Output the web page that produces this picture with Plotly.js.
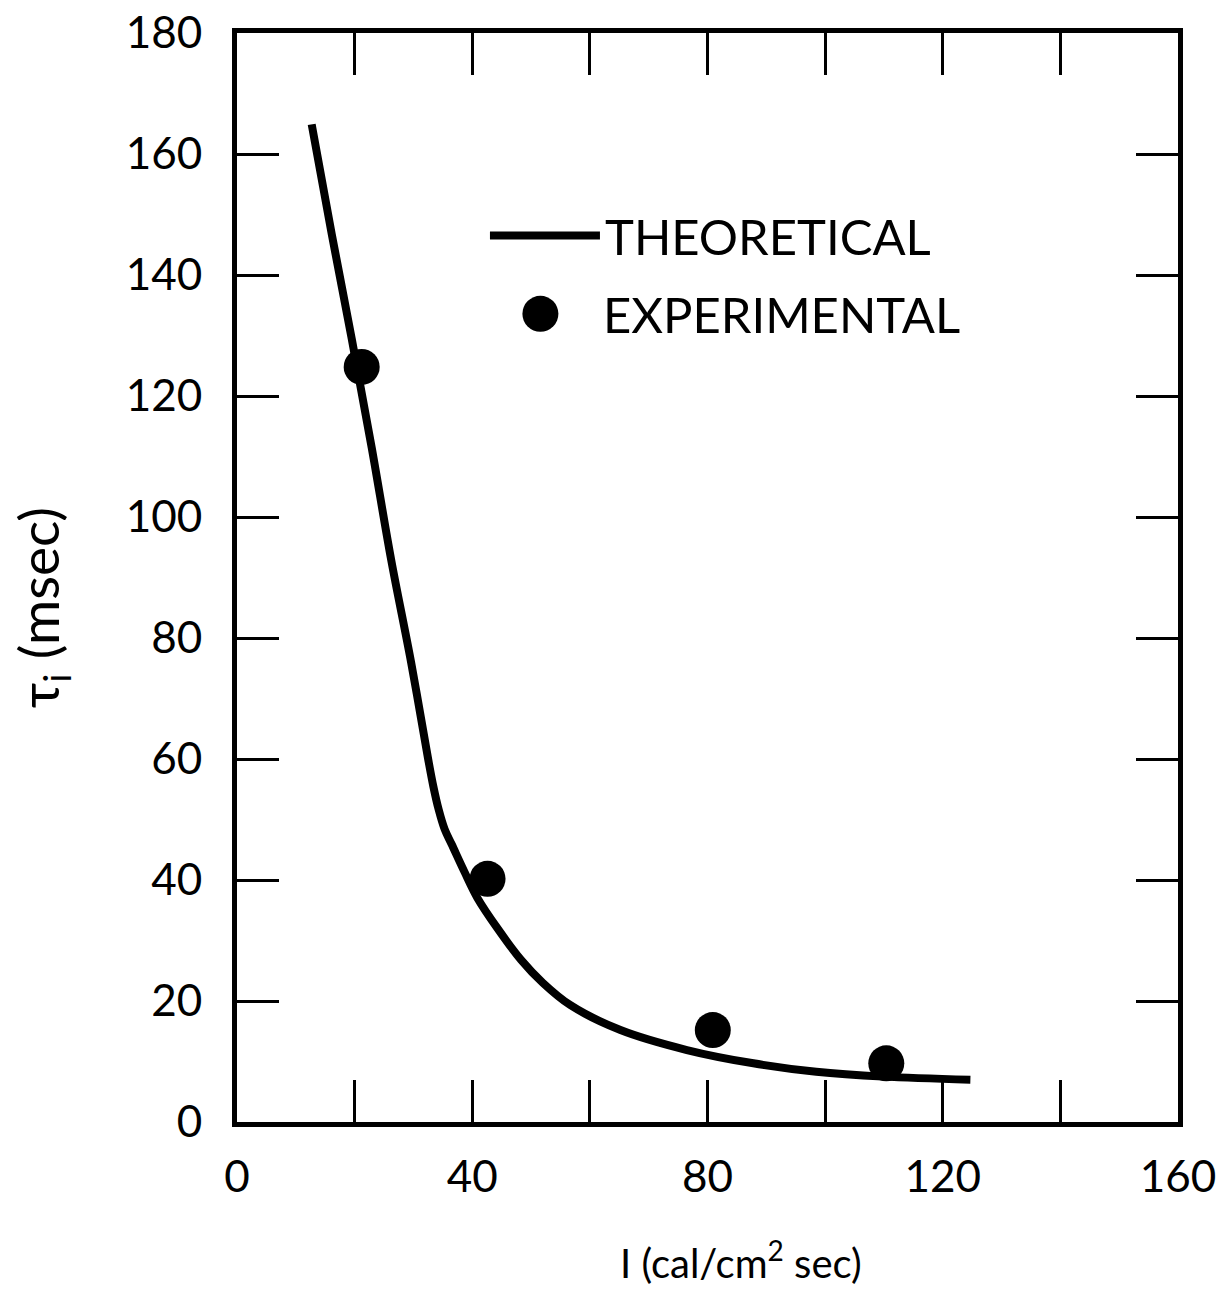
<!DOCTYPE html>
<html>
<head>
<meta charset="utf-8">
<script src="https://cdn.plot.ly/plotly-3.0.1.min.js"></script>
<style>html,body{margin:0;padding:0;background:#fff}#chart{width:1231px;height:1293px}</style>
</head>
<body>
<div id="chart"></div>
<script>
// Theoretical curve
const theoX = [12.7, 16.1, 19.5, 22.9, 26.2, 29.6, 32.5, 33.4, 34.3, 35.3, 36.5, 38.7, 40.9, 44.3, 48.3, 52.0, 56.7, 65.2, 76.5, 87.8, 98.5, 109.8, 124.7];
const theoY = [164.9, 146.8, 129.5, 111.5, 93.0, 76.0, 60.0, 55.4, 51.6, 48.4, 45.9, 41.3, 37.0, 32.0, 26.8, 23.0, 19.3, 15.2, 11.9, 9.7, 8.3, 7.5, 7.0];
// Experimental points
const expX = [21.2, 42.6, 80.9, 110.4];
const expY = [124.8, 40.2, 15.2, 9.7];
// Axis ticks
const xTickVals = [0, 40, 80, 120, 160];
const xTickText = ['0', '40', '80', '120', '160'];
const xMinorVals = [20, 60, 100, 140];
const yTickVals = [0, 20, 40, 60, 80, 100, 120, 140, 160, 180];
const yTickText = ['0', '20', '40', '60', '80', '100', '120', '140', '160', '180'];
const xTitle = 'I (cal/cm<sup>2</sup> sec)';
const yTitle = 'τ<sub>i</sub> (msec)';

const FONT = 'Lato, "Open Sans", sans-serif';

const traces = [
  {
    x: theoX, y: theoY, type: 'scatter', mode: 'lines', name: 'THEORETICAL',
    line: {color: '#000', width: 8, shape: 'spline', smoothing: 1},
    legend: 'legend'
  },
  {
    x: expX, y: expY, type: 'scatter', mode: 'markers', name: 'EXPERIMENTAL',
    marker: {color: '#000', size: 36, symbol: 'circle'},
    legend: 'legend2'
  }
];

const axisCommon = {
  showline: true, linecolor: '#000', linewidth: 5, mirror: 'allticks',
  ticks: 'inside', ticklen: 42, tickwidth: 3, tickcolor: '#000',
  showgrid: false, zeroline: false, tickmode: 'array',
  tickfont: {family: FONT, size: 44, color: '#000'}
};

const layout = {
  width: 1231, height: 1293,
  paper_bgcolor: '#fff', plot_bgcolor: '#fff',
  margin: {l: 237, r: 53, t: 33, b: 171},
  showlegend: true,
  xaxis: Object.assign({}, axisCommon, {
    range: [0, 160], tickvals: xTickVals, ticktext: xTickText,
    minor: {tickmode: 'array', tickvals: xMinorVals, ticks: 'inside', ticklen: 42, tickwidth: 3, tickcolor: '#000', showgrid: false},
    ticklabelstandoff: 12
  }),
  yaxis: Object.assign({}, axisCommon, {
    range: [0, 180], tickvals: yTickVals, ticktext: yTickText,
    ticklabelstandoff: 21
  }),
  annotations: [
    {text: xTitle, xref: 'paper', yref: 'paper', x: 0.5354, y: -0.1264,
     xanchor: 'center', yanchor: 'middle', showarrow: false,
     font: {family: FONT, size: 40, color: '#000'}},
    {text: yTitle, xref: 'paper', yref: 'paper', x: -0.2063, y: 0.4725,
     xanchor: 'center', yanchor: 'middle', showarrow: false, textangle: -90,
     font: {family: FONT, size: 55, color: '#000'}}
  ],
  legend: {
    x: 0.2635, y: 0.814, xanchor: 'left', yanchor: 'middle',
    bgcolor: 'rgba(0,0,0,0)', font: {family: FONT, size: 49, color: '#000'},
    itemwidth: 110
  },
  legend2: {
    x: 0.2985, y: 0.742, xanchor: 'left', yanchor: 'middle',
    bgcolor: 'rgba(0,0,0,0)', font: {family: FONT, size: 49, color: '#000'},
    itemwidth: 75
  }
};

Plotly.newPlot('chart', traces, layout, {staticPlot: true, displayModeBar: false}).then(function (gd) {
  // enlarge legend marker symbol to match the plotted marker size (legend caps it at 16px)
  const pts = gd.querySelectorAll('g.legend2 path.scatterpts');
  pts.forEach(function (p) {
    p.setAttribute('d', 'M-2,0A18,18 0 1,1 -20,-18A18,18 0 0,1 -2,0Z');
  });
});
</script>
</body>
</html>
